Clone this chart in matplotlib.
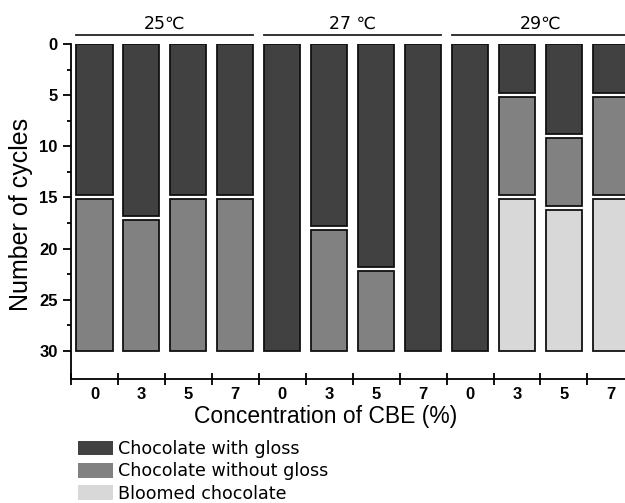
import numpy as np
import matplotlib
matplotlib.use("Agg")
import matplotlib.pyplot as plt
import matplotlib.transforms as mtransforms
from matplotlib.patches import Patch

# CBE concentration (%) for each bar, grouped by storage temperature
temps = ['25\u2103', '27 \u2103', '29\u2103']
conc = ['0', '3', '5', '7']

# cycle at which each state ends (stacked downward from 0 cycles)
gloss = [15, 17, 15, 15, 30, 18, 22, 30, 30, 5, 9, 5]
no_gloss = [30, 30, 30, 30, 30, 30, 30, 30, 30, 15, 16, 15]
bloomed = [30, 30, 30, 30, 30, 30, 30, 30, 30, 30, 30, 30]

states = ['Chocolate with gloss', 'Chocolate without gloss', 'Bloomed chocolate']
colors = ['#414141', '#818181', '#d8d8d8']

plt.rcParams['font.family'] = 'DejaVu Sans'

fig = plt.figure(figsize=(6.25, 5.03), dpi=100)
W, H = 625, 503
ax = fig.add_axes([71 / W, 1 - 379 / H, (W - 71) / W, (379 - 44) / H])

x = np.arange(len(gloss))
bw = 0.77
gap = 0.2
ends = np.array([gloss, no_gloss, bloomed], dtype=float)
for i in x:
    start = 0.0
    for k in range(3):
        stop = ends[k, i]
        if stop > start:
            lo = start + (gap if start > 0 else 0)
            hi = stop - (gap if stop < 30 else 0)
            ax.bar(i, hi - lo, bottom=lo, width=bw, color=colors[k],
                   edgecolor='#111111', linewidth=1.3)
        start = max(start, stop)

ax.set_ylim(32.75, 0)
ax.set_xlim(-0.5, 11.3)
ax.set_yticks(np.arange(0, 31, 5))
ax.set_yticks(np.arange(2.5, 30, 5), minor=True)
ax.set_xticks(np.arange(-0.5, 11.5, 1))
ax.set_xticklabels([])
for i in x:
    ax.text(i, -0.025, conc[i % 4], transform=ax.get_xaxis_transform(),
            ha='center', va='top', fontsize=12, fontweight='bold',
            family='Liberation Sans')

ax.spines['top'].set_visible(False)
ax.spines['right'].set_visible(False)
for s in ['left', 'bottom']:
    ax.spines[s].set_linewidth(1.3)
ax.tick_params(axis='y', which='major', direction='out', length=6, width=1.3,
               labelsize=12)
ax.tick_params(axis='y', which='minor', direction='out', length=3, width=1.3)
ax.tick_params(axis='x', which='major', direction='inout', length=8, width=1.3)
for lab in ax.get_yticklabels():
    lab.set_fontweight('bold')
    lab.set_family('Liberation Sans')

fig.text(21 / W, 1 - 214 / H, 'Number of cycles', fontsize=18,
         family='Liberation Sans', rotation=90, ha='center', va='center')
fig.text(326 / W, 1 - 417 / H, 'Concentration of CBE (%)', fontsize=16.5,
         family='Liberation Sans', ha='center', va='center')

# temperature group headers with bracket lines
trans = mtransforms.blended_transform_factory(ax.transData, ax.transAxes)
for g, t in enumerate(temps):
    x0 = 4 * g - bw / 2
    x1 = 4 * g + 3 + bw / 2
    ax.plot([x0, x1], [1.027, 1.027], transform=trans, color='#222222',
            lw=1.3, clip_on=False)
    ax.text(4 * g + 1.5, 1.06, t, transform=trans, ha='center',
            va='center', fontsize=12.5)

handles = [Patch(facecolor=c, edgecolor='none') for c in colors]
fig.legend(handles, states, loc='upper left',
           bbox_to_anchor=(78 / W, 1 - 440 / H), frameon=False,
           fontsize=12.6, handlelength=2.0, handleheight=0.9,
           handletextpad=0.3, labelspacing=0.25, borderaxespad=0,
           borderpad=0)

fig.savefig('out.png', dpi=100)
